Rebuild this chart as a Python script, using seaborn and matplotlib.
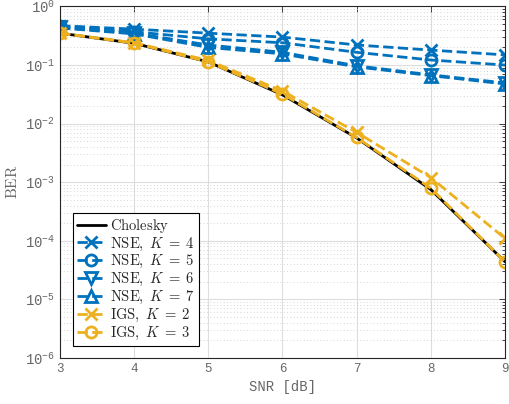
import numpy as np
import pandas as pd
import matplotlib
matplotlib.use("Agg")
import matplotlib.pyplot as plt
import seaborn as sns

snr = [3, 4, 5, 6, 7, 8, 9]
cholesky = [0.35, 0.235, 0.113, 0.031, 0.0057, 7.5e-4, 4.4e-5]
nse_k4 = [0.47, 0.41, 0.35, 0.30, 0.22, 0.18, 0.149]
nse_k5 = [0.46, 0.37, 0.28, 0.24, 0.165, 0.122, 0.100]
nse_k6 = [0.44, 0.35, 0.22, 0.165, 0.097, 0.068, 0.0495]
nse_k7 = [0.43, 0.34, 0.20, 0.155, 0.093, 0.066, 0.0475]
igs_k2 = [0.35, 0.24, 0.12, 0.036, 0.0071, 0.0012, 1.1e-4]
igs_k3 = [0.35, 0.238, 0.113, 0.032, 0.0058, 7.9e-4, 4.4e-5]

x_ticks = [3, 4, 5, 6, 7, 8, 9]
y_ticks = [1e-6, 1e-5, 1e-4, 1e-3, 1e-2, 1e-1, 1e0]
y_tick_labels = [r"$\mathrm{10}^{-6}$", r"$\mathrm{10}^{-5}$", r"$\mathrm{10}^{-4}$",
                 r"$\mathrm{10}^{-3}$", r"$\mathrm{10}^{-2}$", r"$\mathrm{10}^{-1}$",
                 r"$\mathrm{10}^{0}$"]

BLUE = "#0072BD"
YELLOW = "#EDB120"

sns.set_theme(style="white")
plt.rcParams["mathtext.fontset"] = "cm"
plt.rcParams["mathtext.rm"] = "Liberation Mono"
plt.rcParams["mathtext.it"] = "Liberation Mono:italic"
plt.rcParams["mathtext.bf"] = "Liberation Mono:bold"
plt.rcParams["font.family"] = ["DejaVu Sans"]

fig = plt.figure(figsize=(5.09, 4.04), dpi=100)
ax = fig.add_axes([0.118, 0.114, 0.874, 0.870])

series = [
    (cholesky, "black", "-", None, r"$\mathrm{Cholesky}$"),
    (nse_k4, BLUE, "--", "x", r"$\mathrm{NSE},\ K\;=\;4$"),
    (nse_k5, BLUE, "--", "o", r"$\mathrm{NSE},\ K\;=\;5$"),
    (nse_k6, BLUE, "--", "v", r"$\mathrm{NSE},\ K\;=\;6$"),
    (nse_k7, BLUE, "--", "^", r"$\mathrm{NSE},\ K\;=\;7$"),
    (igs_k2, YELLOW, "--", "x", r"$\mathrm{IGS},\ K\;=\;2$"),
    (igs_k3, YELLOW, "--", "o", r"$\mathrm{IGS},\ K\;=\;3$"),
]

for vals, col, ls, mk, lab in series:
    df = pd.DataFrame({"SNR": snr, "BER": vals})
    kw = dict(x="SNR", y="BER", data=df, ax=ax, color=col, linestyle=ls,
              linewidth=2, label=lab)
    if mk is not None:
        kw.update(marker=mk, markersize=8, markerfacecolor="none",
                  markeredgecolor=col, markeredgewidth=2)
    sns.lineplot(**kw)

ax.set_yscale("log")
ax.set_xlim(3, 9)
ax.set_ylim(1e-6, 1e0)
ax.set_xticks(x_ticks)
ax.set_xticklabels([str(t) for t in x_ticks], family="Liberation Mono",
                   fontsize=9, color="#666666")
ax.set_yticks(y_ticks)
ax.set_yticklabels(y_tick_labels, fontsize=10, color="#666666")
for t in ax.get_yticklabels():
    t.set_math_fontfamily("custom")
ax.yaxis.set_minor_locator(matplotlib.ticker.LogLocator(base=10, subs=np.arange(2, 10), numticks=20))
ax.yaxis.set_minor_formatter(matplotlib.ticker.NullFormatter())

ax.grid(True, which="major", color="#dddddd", linewidth=0.8, linestyle="-")
ax.yaxis.grid(True, which="minor", color="#c8c8c8", linewidth=0.6, linestyle=(0, (1, 3)))
ax.set_axisbelow(True)

ax.tick_params(which="both", direction="in", top=True, right=True, length=4,
               color="#262626", width=0.6)
ax.tick_params(which="minor", length=2)
for s in ax.spines.values():
    s.set_color("#262626")
    s.set_linewidth(0.8)

ax.set_xlabel("SNR [dB]", family="Liberation Mono", fontsize=10, color="#666666")
ax.set_ylabel(r"$\mathrm{BER}$", fontsize=11, color="#666666")
ax.yaxis.label.set_math_fontfamily("cm")

leg = ax.legend(loc="lower left", bbox_to_anchor=(0.029, 0.035), fontsize=10.5,
                frameon=True, fancybox=False, edgecolor="black",
                handlelength=2.0, handletextpad=0.3, borderpad=0.25,
                labelspacing=0.05, borderaxespad=0)
leg.get_frame().set_linewidth(0.8)
leg.get_frame().set_alpha(1)

fig.savefig("out.png", dpi=100)
